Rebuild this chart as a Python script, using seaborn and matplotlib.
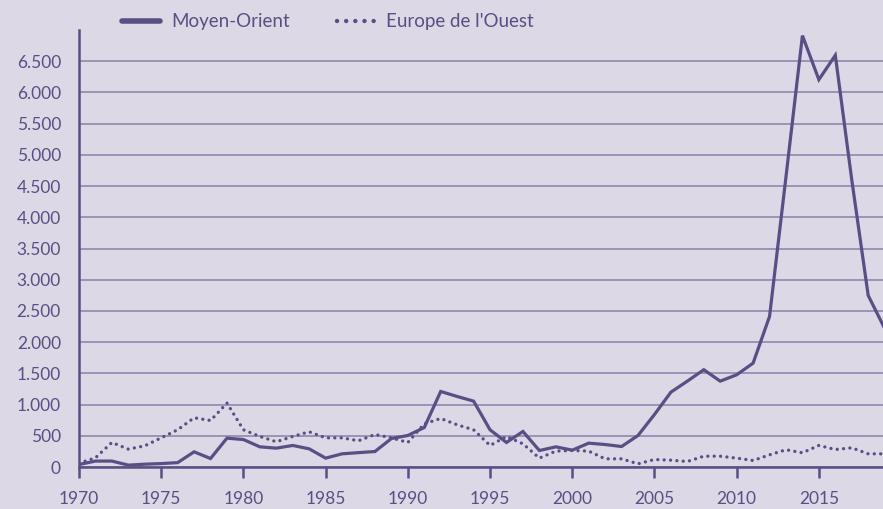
import matplotlib
matplotlib.use("Agg")
import matplotlib.pyplot as plt
import seaborn as sns
import pandas as pd
from matplotlib.ticker import FuncFormatter, MultipleLocator
from matplotlib.lines import Line2D

years = list(range(1970, 2020))
moyen_orient = [40, 95, 95, 30, 45, 55, 70, 243, 136, 462, 440, 323, 302, 345, 291, 142,
                211, 230, 248, 456, 505, 633, 1210, 1130, 1055, 596, 393, 569, 264, 323,
                270, 382, 360, 328, 505, 841, 1199, 1375, 1558, 1375, 1477, 1664, 2412,
                4650, 6910, 6205, 6595, 4600, 2748, 2220]
europe_ouest = [61, 147, 393, 286, 339, 467, 596, 788, 745, 1023, 596, 489, 404, 489, 564,
                467, 467, 420, 521, 467, 393, 692, 777, 676, 596, 345, 489, 372, 142, 254,
                265, 254, 131, 131, 51, 120, 109, 88, 173, 173, 142, 104, 195, 276, 228,
                345, 280, 307, 211, 211]
series_names = ["Moyen-Orient", "Europe de l'Ouest"]

BG = "#dcd8e6"
INK = "#5b4e85"
GRID = "#8a80aa"

sns.set_theme(style="white")
plt.rcParams['font.family'] = ['Lato', 'DejaVu Sans']

df = pd.DataFrame({"year": years + years,
                   "value": moyen_orient + europe_ouest,
                   "serie": [series_names[0]] * len(years) + [series_names[1]] * len(years)})

fig = plt.figure(figsize=(8.83, 5.09), dpi=100, facecolor=BG)
ax = fig.add_axes([79 / 883, 1 - 467 / 509, 1 - 79 / 883, 437 / 509])
ax.set_facecolor(BG)

sns.lineplot(data=df[df.serie == series_names[0]], x="year", y="value", ax=ax,
             color=INK, linewidth=2.3, legend=False, solid_joinstyle="miter")
sns.lineplot(data=df[df.serie == series_names[1]], x="year", y="value", ax=ax,
             color=INK, linewidth=2.4, legend=False,
             linestyle=(0, (0.01, 1.9)), dash_capstyle="round")

ax.set_xlim(1970, 2018.9)
ax.set_ylim(0, 7000)
ax.set_yticks([v for v in range(0, 7000, 500)])
ax.xaxis.set_major_locator(MultipleLocator(5))
ax.yaxis.set_major_formatter(FuncFormatter(lambda v, p: f"{int(v):,}".replace(",", ".")))
ax.grid(axis="y", color=GRID, linewidth=1.1)
ax.set_axisbelow(True)
for s in ["top", "right"]:
    ax.spines[s].set_visible(False)
for s in ["left", "bottom"]:
    ax.spines[s].set_color(INK)
    ax.spines[s].set_linewidth(1.8)
ax.tick_params(axis="x", direction="out", length=8, width=1.8, color=INK,
               labelcolor=INK, labelsize=12.5, pad=9, bottom=True)
ax.tick_params(axis="y", length=0, labelcolor=INK, labelsize=12.5, pad=13)
ax.set_xlabel("")
ax.set_ylabel("")

handles = [Line2D([], [], color=INK, linewidth=4),
           Line2D([], [], color=INK, linewidth=3.2, linestyle=(0, (0.01, 2.05)),
                  dash_capstyle="round")]
fig.legend(handles, series_names, loc="center left",
           bbox_to_anchor=(122 / 883, 1 - 22 / 509),
           ncol=2, frameon=False, fontsize=13.5, labelcolor=INK, handlelength=2.0,
           handletextpad=0.64, columnspacing=2.5, borderpad=0, borderaxespad=0)

fig.savefig("out.png", dpi=100, facecolor=BG)
